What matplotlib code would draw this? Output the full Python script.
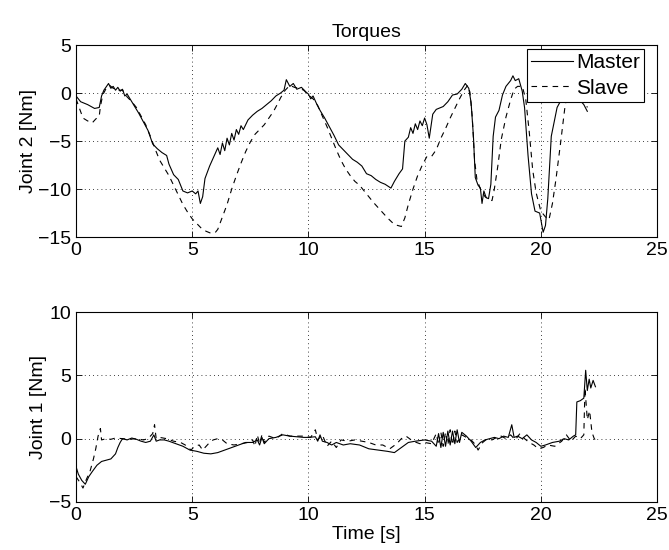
import matplotlib
matplotlib.use("Agg")
import matplotlib.pyplot as plt

plt.rcParams['font.family'] = ['Liberation Sans', 'DejaVu Sans']

# Joint 2 (top panel)
t_m2 = [0.0, 0.2, 0.5, 0.8, 1.0, 1.1, 1.2, 1.4, 1.5, 1.6, 1.7, 1.8, 1.9, 2.0, 2.1, 2.2,
        2.3, 2.5, 2.7, 2.9, 3.1, 3.3, 3.5, 3.7, 3.9, 4.0, 4.2, 4.4, 4.6, 4.8, 5.0, 5.15,
        5.25, 5.35, 5.45, 5.55, 5.75, 5.95, 6.1, 6.2, 6.3, 6.4, 6.5, 6.6, 6.7, 6.8, 6.9,
        7.0, 7.1, 7.2, 7.4, 7.6, 7.8, 8.0, 8.2, 8.4, 8.6, 8.8, 8.95, 9.05, 9.2, 9.35, 9.5,
        9.7, 9.9, 10.0, 10.1, 10.2, 10.35, 10.5, 10.7, 10.9, 11.1, 11.3, 11.5, 11.7, 11.9,
        12.1, 12.3, 12.5, 12.7, 12.9, 13.1, 13.3, 13.55, 13.7, 13.9, 14.05, 14.15, 14.3,
        14.4, 14.5, 14.6, 14.7, 14.8, 14.9, 15.0, 15.1, 15.2, 15.35, 15.5, 15.8, 16.0,
        16.2, 16.4, 16.6, 16.75, 16.9, 17.0, 17.1, 17.18, 17.3, 17.4, 17.47, 17.55, 17.65,
        17.75, 17.85, 17.95, 18.05, 18.2, 18.35, 18.5, 18.7, 18.8, 18.9, 19.05, 19.2, 19.3,
        19.45, 19.6, 19.75, 19.95, 20.1, 20.2, 20.3, 20.45, 20.55, 20.7, 20.9, 21.2, 21.6,
        21.85, 22.0]
master_j2 = [-0.3, -0.9, -1.2, -1.6, -1.5, -0.3, 0.3, 1.0, 0.5, 0.7, 0.3, 0.6, 0.2, 0.4,
             -0.3, -0.1, -0.5, -1.3, -2.1, -3.0, -3.9, -5.3, -5.8, -6.2, -6.5, -7.4, -8.5,
             -9.0, -10.2, -10.4, -10.2, -10.5, -10.2, -11.5, -10.8, -8.9, -7.6, -6.5, -5.7,
             -6.4, -5.2, -6.0, -4.7, -5.4, -4.2, -4.9, -3.8, -4.3, -3.4, -3.8, -2.8, -2.3,
             -1.9, -1.6, -1.2, -0.8, -0.3, 0.0, 0.3, 1.4, 0.7, 1.0, 0.4, 0.6, 0.1, -0.1,
             -0.6, -0.3, -1.1, -1.8, -2.6, -3.5, -4.4, -5.4, -5.9, -6.4, -6.9, -7.2, -7.6,
             -8.4, -8.6, -9.0, -9.3, -9.5, -9.9, -9.2, -8.4, -7.9, -5.0, -4.6, -3.6, -4.2,
             -3.2, -3.8, -2.9, -3.4, -2.6, -3.3, -4.7, -2.2, -1.7, -1.4, -0.9, -0.2, -0.1,
             0.4, 1.0, 0.5, -1.0, -4.5, -8.8, -9.6, -9.9, -11.5, -10.2, -10.9, -11.0, -9.5,
             -4.5, -2.5, -1.8, -0.2, 0.7, 1.3, 1.8, 1.3, 1.5, 0.2, -1.5, -6.5, -10.5, -12.3,
             -12.5, -14.5, -13.8, -11.0, -4.5, -3.3, -1.5, -0.6, -0.2, -0.5, -1.2, -1.9]

t_s2 = [0.0, 0.15, 0.3, 0.5, 0.7, 0.85, 1.0, 1.05, 1.15, 1.3, 1.45, 1.6, 1.8, 2.0, 2.2,
        2.4, 2.6, 2.8, 3.0, 3.2, 3.4, 3.6, 3.8, 4.0, 4.2, 4.4, 4.6, 4.8, 5.0, 5.2, 5.4,
        5.6, 5.8, 6.0, 6.1, 6.3, 6.5, 6.7, 6.9, 7.1, 7.3, 7.5, 7.7, 7.9, 8.1, 8.3, 8.5,
        8.7, 8.8, 9.0, 9.2, 9.4, 9.6, 9.8, 10.0, 10.2, 10.4, 10.6, 10.8, 11.0, 11.2, 11.4,
        11.6, 11.8, 12.0, 12.2, 12.5, 12.8, 13.1, 13.4, 13.7, 14.0, 14.15, 14.3, 14.5,
        14.7, 14.9, 15.1, 15.3, 15.5, 15.7, 15.9, 16.1, 16.3, 16.5, 16.7, 16.85, 16.95,
        17.05, 17.15, 17.25, 17.4, 17.6, 17.8, 17.9, 18.0, 18.15, 18.3, 18.5, 18.7, 18.85,
        19.0, 19.2, 19.35, 19.5, 19.65, 19.8, 20.0, 20.2, 20.35, 20.5, 20.65, 20.85, 21.05,
        21.2, 21.5, 21.8, 22.0]
slave_j2 = [-0.6, -1.6, -2.6, -2.9, -3.1, -2.7, -2.4, -1.4, -0.2, 0.5, 0.8, 0.5, 0.3, 0.3,
            -0.4, -0.9, -1.5, -2.4, -3.3, -4.5, -5.8, -7.0, -7.8, -8.6, -9.6, -10.6, -11.6,
            -12.4, -13.1, -13.6, -14.1, -14.4, -14.6, -14.5, -14.2, -12.9, -11.6, -10.0,
            -8.6, -7.3, -6.1, -5.1, -4.3, -3.8, -3.3, -2.6, -1.9, -1.0, -0.5, 0.3, 0.8, 0.6,
            0.5, 0.3, -0.2, -0.6, -1.3, -2.4, -3.5, -4.7, -5.9, -7.0, -7.9, -8.6, -9.2, -9.6,
            -10.5, -11.4, -12.2, -13.0, -13.7, -13.9, -13.0, -11.6, -10.0, -8.6, -7.5, -6.6,
            -6.6, -5.9, -4.7, -3.7, -2.6, -1.6, -0.6, 0.3, 0.8, 0.1, -2.5, -7.0, -9.0, -10.0,
            -10.8, -11.1, -11.2, -10.0, -7.6, -4.8, -2.5, -0.7, 0.4, 0.7, 0.7, -0.6, -4.0,
            -8.0, -10.4, -12.3, -12.9, -13.2, -11.5, -9.0, -5.2, -1.2, 0.2, 0.5, 0.0, -1.5]

# Joint 1 (bottom panel)
t_m1 = [0.0, 0.1, 0.25, 0.4, 0.55, 0.7, 0.9, 1.1, 1.3, 1.5, 1.7, 1.8, 1.9, 2.0, 2.2, 2.4,
        2.6, 2.8, 3.0, 3.2, 3.35, 3.45, 3.6, 3.8, 4.0, 4.3, 4.6, 4.9, 5.2, 5.5, 5.8, 6.1,
        6.4, 6.7, 7.0, 7.3, 7.6, 7.8, 7.9, 8.0, 8.1, 8.3, 8.6, 8.9, 9.2, 9.5, 9.8, 10.0,
        10.3, 10.4, 10.5, 10.6, 10.8, 11.0, 11.2, 11.5, 11.8, 12.2, 12.6, 13.0, 13.4, 13.7,
        14.0, 14.3, 14.6, 15.0, 15.3, 15.5, 15.6, 15.7, 15.8, 15.9, 16.0, 16.1, 16.2, 16.3,
        16.4, 16.5, 16.6, 16.8, 17.0, 17.2, 17.4, 17.6, 17.8, 18.0, 18.2, 18.4, 18.6,
        18.75, 18.85, 19.0, 19.2, 19.4, 19.6, 19.8, 20.0, 20.2, 20.5, 20.8, 21.0, 21.2,
        21.4, 21.5, 21.55, 21.7, 21.85, 21.93, 22.0, 22.08, 22.15, 22.25, 22.35]
master_j1 = [-2.2, -2.8, -3.3, -3.6, -3.0, -2.6, -2.1, -1.8, -1.7, -1.6, -1.2, -0.7, -0.3,
             0.0, -0.1, 0.05, -0.05, -0.2, -0.3, -0.2, 0.3, -0.2, -0.1, -0.1, -0.2, -0.4,
             -0.6, -0.9, -1.0, -1.15, -1.2, -1.1, -0.9, -0.7, -0.5, -0.3, -0.3, -0.1, -0.5,
             0.1, -0.4, 0.0, 0.1, 0.3, 0.2, 0.15, 0.1, 0.1, 0.15, -0.2, 0.3, -0.2, -0.3,
             -0.5, -0.3, -0.5, -0.4, -0.5, -0.8, -0.9, -1.0, -1.1, -0.7, -0.3, -0.2, -0.1,
             -0.2, -0.6, 0.4, -0.7, 0.5, -0.6, 0.6, -0.5, 0.6, -0.4, 0.7, -0.3, 0.5, 0.2,
             -0.2, -0.7, -0.3, -0.1, 0.0, 0.1, 0.0, 0.2, 0.1, 1.1, 0.1, 0.2, 0.0, 0.3, -0.1,
             -0.3, -0.6, -0.5, -0.3, -0.2, 0.0, -0.1, 0.2, 0.3, 2.9, 3.0, 3.2, 5.4, 3.8, 4.7,
             4.0, 4.6, 4.1]

t_s1 = [0.0, 0.15, 0.3, 0.45, 0.6, 0.75, 0.85, 0.95, 1.05, 1.1, 1.3, 1.5, 1.7, 2.0, 2.3,
        2.6, 2.9, 3.1, 3.3, 3.38, 3.45, 3.6, 3.9, 4.2, 4.5, 4.7, 4.95, 5.1, 5.3, 5.45, 5.7,
        5.9, 6.1, 6.3, 6.5, 6.8, 7.1, 7.4, 7.6, 7.7, 7.8, 7.9, 8.0, 8.1, 8.3, 8.6, 8.9,
        9.2, 9.5, 9.8, 10.1, 10.3, 10.4, 10.6, 10.8, 11.0, 11.2, 11.4, 11.7, 12.0, 12.3,
        12.6, 12.9, 13.2, 13.5, 13.8, 14.0, 14.2, 14.5, 14.8, 15.0, 15.3, 15.5, 15.6, 15.7,
        15.8, 15.9, 16.0, 16.1, 16.2, 16.3, 16.4, 16.6, 16.8, 17.0, 17.2, 17.3, 17.5, 17.7,
        17.9, 18.1, 18.3, 18.5, 18.7, 18.9, 19.1, 19.3, 19.5, 19.7, 19.9, 20.1, 20.3, 20.6,
        20.9, 21.1, 21.3, 21.5, 21.7, 21.85, 21.9, 22.0, 22.1, 22.2, 22.3, 22.4]
slave_j1 = [-3.0, -3.4, -3.9, -3.2, -2.6, -1.6, -0.8, 0.2, 0.8, -0.1, 0.0, -0.05, 0.05,
            0.0, -0.05, 0.0, -0.1, 0.0, 0.4, 1.1, 0.0, 0.1, 0.0, -0.2, -0.3, -0.5, -0.9,
            -0.6, -0.5, -0.9, -0.4, -0.1, 0.0, -0.1, -0.4, -0.5, -0.4, -0.3, -0.1, -0.6,
            0.3, -0.4, 0.3, -0.3, 0.2, 0.0, 0.4, 0.2, 0.2, 0.2, 0.1, 0.7, -0.1, 0.3, -0.6,
            -0.2, -0.7, -0.1, -0.2, -0.1, -0.2, -0.3, -0.5, -0.5, -0.8, -0.4, 0.0, 0.2,
            -0.2, -0.4, -0.3, -0.4, 0.4, -0.5, 0.5, -0.6, 0.5, -0.5, 0.7, -0.5, 0.6, -0.3,
            0.3, 0.1, -0.1, -0.5, -0.9, -0.3, 0.0, -0.1, 0.1, 0.2, 0.0, 0.3, -0.1, 0.4, 0.0,
            -0.3, -0.5, -0.8, -0.7, -0.5, -0.6, -0.2, 0.3, -0.2, 0.2, 0.0, 0.3, 4.0, 1.5,
            2.2, 0.5, 0.0, -0.2]

x_ticks = [0, 5, 10, 15, 20, 25]
j2_ticks = [-15, -10, -5, 0, 5]
j1_ticks = [-5, 0, 5, 10]

dash = (0, (5, 4.5))
lw = 0.8
fs = 14

fig = plt.figure(figsize=(6.69, 5.5), dpi=100)
ax1 = fig.add_axes([0.1136, 0.569, 0.8685, 0.349])
ax2 = fig.add_axes([0.1136, 0.0873, 0.8685, 0.3454])

ax1.plot(t_m2, master_j2, color='k', lw=lw, label='Master')
ax1.plot(t_s2, slave_j2, color='k', lw=lw, linestyle=dash, label='Slave')
ax2.plot(t_m1, master_j1, color='k', lw=lw)
ax2.plot(t_s1, slave_j1, color='k', lw=lw, linestyle=dash)

for ax, yt in [(ax1, j2_ticks), (ax2, j1_ticks)]:
    ax.set_xlim(0, 25)
    ax.set_ylim(yt[0], yt[-1])
    ax.set_xticks(x_ticks)
    ax.set_yticks(yt)
    ax.grid(True, color='k', linestyle=(0, (1, 4)), linewidth=0.6)
    ax.tick_params(direction='in', top=True, right=True, length=4, width=0.6,
                   labelsize=fs, pad=3.5)
    for s in ax.spines.values():
        s.set_linewidth(0.8)

ax1.set_title('Torques', fontsize=fs, pad=6)
ax1.set_ylabel('Joint 2 [Nm]', fontsize=fs, labelpad=1)
ax2.set_ylabel('Joint 1 [Nm]', fontsize=fs, labelpad=1)
ax2.set_xlabel('Time [s]', fontsize=fs, labelpad=1.5)

leg = ax1.legend(loc='upper right', bbox_to_anchor=(0.978, 0.978), fontsize=15,
                 frameon=True, fancybox=False, framealpha=1, edgecolor='k',
                 borderpad=0.2, labelspacing=0.3, handlelength=2.0,
                 handletextpad=0.15, borderaxespad=0)
leg.get_frame().set_linewidth(0.8)

fig.savefig('out.png', dpi=100)
